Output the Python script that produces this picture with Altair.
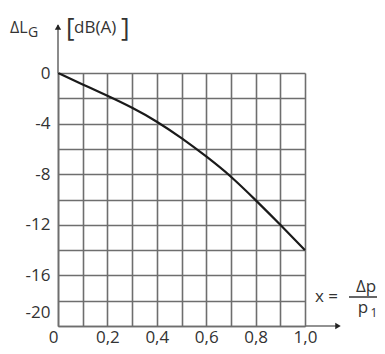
import altair as alt
import pandas as pd

# data
x_vals = [0.0, 0.1, 0.2, 0.3, 0.4, 0.5, 0.6, 0.7, 0.8, 0.9, 1.0]
dL_vals = [0.0, -0.9, -1.8, -2.75, -3.85, -5.15, -6.6, -8.2, -10.05, -12.0, -14.0]
x_ticks = [0.0, 0.1, 0.2, 0.3, 0.4, 0.5, 0.6, 0.7, 0.8, 0.9, 1.0]
y_ticks = [0, -2, -4, -6, -8, -10, -12, -14, -16, -18, -20]

FONT = "Open Sans"
GRID = "#6e6e6e"
TXT = "#333333"

df = pd.DataFrame({"x": x_vals, "y": dL_vals})
one = pd.DataFrame({"k": [0]})

xs = alt.Scale(domain=[0, 1], nice=False, zero=False)
ys = alt.Scale(domain=[-20, 0], nice=False, zero=False)

curve = alt.Chart(df).mark_line(color="#1a1a1a", strokeWidth=2.2, interpolate="natural").encode(
    x=alt.X("x:Q", scale=xs, axis=alt.Axis(
        values=x_ticks, grid=True, gridColor=GRID, gridWidth=1.6, gridOpacity=1,
        domainColor=GRID, domainWidth=1.6, ticks=False, title=None,
        labelFont=FONT, labelFontSize=17, labelColor=TXT, labelPadding=3,
        labelBaseline="top",
        labelAlign={"expr": "datum.value == 0 ? 'right' : 'center'"},
        labelExpr="datum.value == 0 ? '0' : (round(datum.value*10) % 2 == 0 ? replace(format(datum.value, '.1f'), '.', ',') : '')",
        labelOverlap=False, labelFlush=False,
    )),
    y=alt.Y("y:Q", scale=ys, axis=alt.Axis(
        values=y_ticks, grid=True, gridColor=GRID, gridWidth=1.6, gridOpacity=1,
        domainColor=GRID, domainWidth=1.6, ticks=False, title=None,
        labelFont=FONT, labelFontSize=17, labelColor=TXT, labelPadding=8,
        labelOffset={"expr": "datum.value == -20 ? -14 : 0"},
        labelExpr="datum.value % 4 == 0 ? replace(format(datum.value, 'd'), '\u2212', '-') : ''",
        labelOverlap=False, labelFlush=False,
    )),
)

# axis arrow extensions (decoration, pixel positions)
yline = alt.Chart(one).mark_rule(color=GRID, strokeWidth=1.6).encode(
    x=alt.value(0), y=alt.value(-48), y2=alt.value(0))
xline = alt.Chart(one).mark_rule(color=GRID, strokeWidth=1.6).encode(
    x=alt.value(247), x2=alt.value(280), y=alt.value(253))
yarrow = alt.Chart(one).mark_point(shape="triangle-up", filled=True, color="#222", size=40, opacity=1).encode(
    x=alt.value(0), y=alt.value(-46))
xarrow = alt.Chart(one).mark_point(shape="triangle-right", filled=True, color="#222", size=40, opacity=1).encode(
    x=alt.value(280), y=alt.value(253))

def txt(s, x, y, size=17, align="left", baseline="middle", font=FONT):
    return alt.Chart(one).mark_text(text=s, font=font, fontSize=size, color=TXT, align=align,
                                    baseline=baseline).encode(
        x=alt.value(x), y=alt.value(y))

labels = [
    txt("ΔL", -48, -45, 16),
    txt("G", -30, -40, 14),
    txt("[", 8, -45, 26),
    txt("dB(A)", 16, -45, 17),
    txt("]", 63, -45, 26),
    txt("x =", 257, 224, 17),
    txt("Δp", 308, 214, 17, align="center"),
    txt("p", 305, 235, 17, align="center"),
    txt("1", 316, 240, 12, align="center"),
]
frac = alt.Chart(one).mark_rule(color="#333", strokeWidth=1.5).encode(
    x=alt.value(291), x2=alt.value(324), y=alt.value(224))

chart = alt.layer(curve, yline, xline, yarrow, xarrow, frac, *labels).properties(
    width=247, height=253,
    autosize=alt.AutoSizeParams(type="none"),
    padding={"left": 50, "top": 65, "right": 72, "bottom": 22},
).configure_view(stroke=None).configure(background="white")

chart.save("out.html", embed_options={"renderer": "svg", "actions": False})
